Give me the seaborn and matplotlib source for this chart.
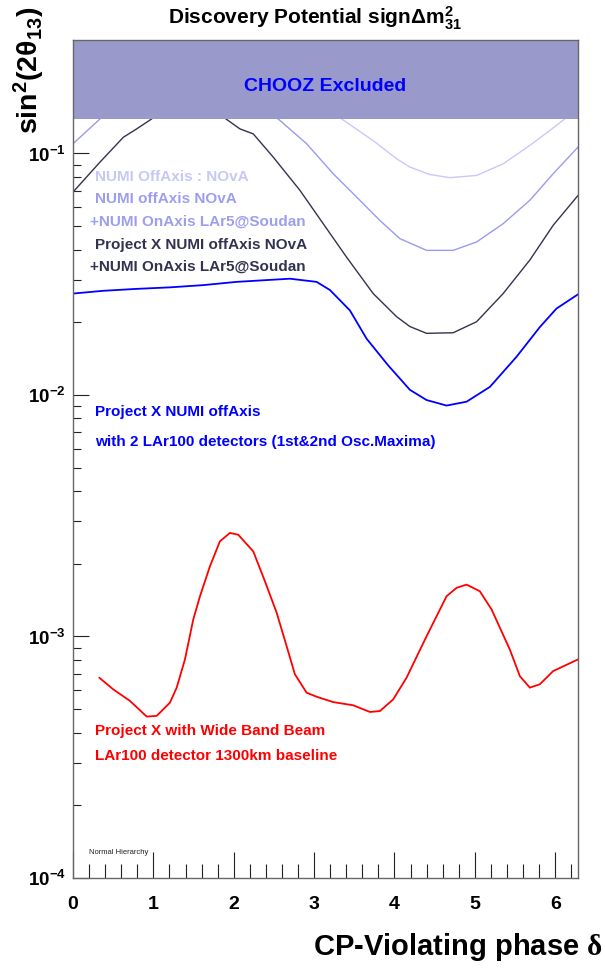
import numpy as np
import pandas as pd
import matplotlib
matplotlib.use("Agg")
import matplotlib.pyplot as plt
from matplotlib.ticker import LogLocator, FuncFormatter, MultipleLocator, NullFormatter
import seaborn as sns

# ---- data: sign(dm31^2) discovery reach vs CP phase ----
# NuMI off-axis NOvA alone
nova_delta = [0.0, 0.5, 1.5, 2.5, 3.0, 3.342, 3.735, 4.026, 4.192, 4.440, 4.689,
              5.021, 5.352, 5.684, 5.933, 6.119, 6.283]
nova_s2 = [0.155, 0.20, 0.25, 0.22, 0.165, 0.139, 0.113, 0.0951, 0.0878, 0.0818, 0.0794,
           0.0811, 0.0906, 0.108, 0.1245, 0.139, 0.155]

# NOvA + LAr5 on-axis at Soudan
lar5_delta = [0.0, 0.336, 0.8, 1.4, 2.0, 2.553, 2.907, 3.238, 3.529, 3.818, 4.067,
              4.399, 4.730, 5.021, 5.352, 5.684, 5.974, 6.283]
lar5_s2 = [0.1097, 0.139, 0.18, 0.21, 0.18, 0.139, 0.1097, 0.0824, 0.0660, 0.0528, 0.0444,
           0.0397, 0.0397, 0.0430, 0.0512, 0.0640, 0.0824, 0.1062]

# Project X beam: NOvA + LAr5
px_lar5_delta = [0.0, 0.336, 0.626, 0.792, 0.979, 1.2, 1.45, 1.7, 1.903, 2.077, 2.243,
                 2.491, 2.823, 3.113, 3.404, 3.735, 4.026, 4.192, 4.399, 4.730, 5.021,
                 5.352, 5.684, 5.974, 6.283]
px_lar5_s2 = [0.0692, 0.0921, 0.1167, 0.1264, 0.139, 0.17, 0.185, 0.17, 0.139, 0.1264, 0.1205,
              0.0966, 0.0704, 0.0512, 0.0372, 0.0263, 0.0211, 0.0192, 0.0180, 0.0181, 0.0201,
              0.0263, 0.0362, 0.0504, 0.0670]

# Project X NuMI off-axis, two LAr100 detectors
px_2lar_delta = [0.0, 0.377, 0.792, 1.206, 1.621, 2.036, 2.699, 3.031, 3.197, 3.445, 3.653,
                 3.918, 4.192, 4.399, 4.648, 4.897, 5.187, 5.519, 5.808, 6.016, 6.283]
px_2lar_s2 = [0.0263, 0.0270, 0.0275, 0.0279, 0.0285, 0.0294, 0.0303, 0.0294, 0.0272, 0.0224,
              0.0171, 0.0133, 0.0105, 0.00953, 0.00904, 0.00938, 0.0108, 0.0144, 0.0191,
              0.0228, 0.0261]

# Project X wide band beam, LAr100 at 1300 km
wbb_delta = [0.327, 0.501, 0.709, 0.917, 1.041, 1.206, 1.290, 1.393, 1.496, 1.580, 1.704,
             1.828, 1.953, 2.056, 2.243, 2.388, 2.534, 2.658, 2.761, 2.907, 3.031, 3.238,
             3.486, 3.694, 3.818, 3.984, 4.150, 4.399, 4.648, 4.772, 4.897, 5.062, 5.208,
             5.435, 5.560, 5.684, 5.808, 5.974, 6.285]
wbb_s2 = [0.000675, 0.000604, 0.000541, 0.000466, 0.000469, 0.000532, 0.000614, 0.000804,
          0.001175, 0.001468, 0.001954, 0.002478, 0.002685, 0.002638, 0.002250, 0.001693,
          0.001254, 0.000912, 0.000697, 0.000585, 0.000563, 0.000535, 0.000519, 0.000487,
          0.000491, 0.000549, 0.000675, 0.001002, 0.001468, 0.001590, 0.001640, 0.001539,
          0.001294, 0.000883, 0.000685, 0.000614, 0.000634, 0.000719, 0.000804]

chooz_limit = 0.139
y_top = 0.295
y_bottom = 1e-4
x_max = 2 * np.pi

sns.set_style("white")
plt.rcParams["font.family"] = ["Liberation Sans", "DejaVu Sans"]
plt.rcParams["font.weight"] = "bold"
plt.rcParams["text.color"] = "black"
plt.rcParams["xtick.color"] = "#222222"
plt.rcParams["ytick.color"] = "#222222"
plt.rcParams["xtick.labelcolor"] = "black"
plt.rcParams["ytick.labelcolor"] = "black"
plt.rcParams["mathtext.fontset"] = "custom"
plt.rcParams["mathtext.rm"] = "Liberation Sans"
plt.rcParams["mathtext.bf"] = "Liberation Sans:bold"
plt.rcParams["mathtext.it"] = "Liberation Serif"

W, H = 605, 976
fig = plt.figure(figsize=(W / 100, H / 100), dpi=100)
ax = fig.add_axes([73 / W, 1 - 878 / H, 505 / W, 838 / H])

series = [
    (nova_delta, nova_s2, "#c8c8fa", 1.0),
    (lar5_delta, lar5_s2, "#9a9af2", 1.0),
    (px_lar5_delta, px_lar5_s2, "#33334f", 1.0),
    (px_2lar_delta, px_2lar_s2, "#0000ff", 1.3),
    (wbb_delta, wbb_s2, "#ff0000", 1.3),
]
for d, s, c, lw in series:
    df = pd.DataFrame({"delta": d, "s2": s})
    sns.lineplot(data=df, x="delta", y="s2", ax=ax, color=c, linewidth=lw,
                 estimator=None, sort=False, zorder=2)

ax.set_yscale("log")
ax.set_xlim(0, x_max)
ax.set_ylim(y_bottom, y_top)

# excluded region
ax.axhspan(chooz_limit, y_top, color="#9999cc", zorder=3, lw=0)
ax.text(0.499, 0.945, "CHOOZ Excluded", transform=ax.transAxes, color="#0000ff",
        fontsize=14, ha="center", va="center", zorder=4)

# ticks
ax.xaxis.set_major_locator(MultipleLocator(1))
ax.xaxis.set_minor_locator(MultipleLocator(0.2))
ax.yaxis.set_major_locator(LogLocator(base=10))
ax.yaxis.set_minor_locator(LogLocator(base=10, subs=np.arange(2, 10)))
ax.yaxis.set_minor_formatter(NullFormatter())
ax.yaxis.set_major_formatter(FuncFormatter(lambda v, p: r"$\mathbf{10^{%d}}$" % round(np.log10(v))))
ax.tick_params(which="both", bottom=True, left=True, top=False, right=False)
ax.tick_params(axis="x", which="major", direction="in", length=19, width=0.8,
               pad=13, labelsize=14)
ax.tick_params(axis="x", which="minor", direction="in", length=10, width=0.8)
ax.tick_params(axis="y", which="major", direction="in", length=11.5, width=0.8,
               pad=5, labelsize=13.5)
ax.tick_params(axis="y", which="minor", direction="in", length=6, width=0.8)
for sp in ax.spines.values():
    sp.set_color("#666666")
    sp.set_linewidth(1.0)
    sp.set_zorder(5)
ax.set_xlabel("")
ax.set_ylabel("")

# curve annotations
labels = [
    (0.0436, 0.8365, "NUMI OffAxis : NOvA", "#c8c8f5"),
    (0.0436, 0.810, "NUMI offAxis NOvA", "#9e9eef"),
    (0.0337, 0.783, "+NUMI OnAxis LAr5@Soudan", "#9e9eef"),
    (0.0436, 0.755, "Project X NUMI offAxis NOvA", "#333350"),
    (0.0337, 0.729, "+NUMI OnAxis LAr5@Soudan", "#333350"),
    (0.0436, 0.556, "Project X NUMI offAxis", "#0000ff"),
    (0.0436, 0.520, "with 2 LAr100 detectors (1st&2nd Osc.Maxima)", "#0000ff"),
    (0.0436, 0.1754, "Project X with Wide Band Beam", "#ff0000"),
    (0.0436, 0.1456, "LAr100 detector 1300km baseline", "#ff0000"),
]
for x, y, t, c in labels:
    ax.text(x, y, t, transform=ax.transAxes, color=c, fontsize=11,
            ha="left", va="center", zorder=4)
ax.text(0.0317, 0.031, "Normal Hierarchy", transform=ax.transAxes, color="#222222",
        fontsize=5.5, fontweight="normal", ha="left", va="center", zorder=4)

fig.text(315 / W, 1 - 18 / H, r"Discovery Potential sign$\mathbf{\Delta m^{2}_{31}}$",
         ha="center", va="center", fontsize=15)
fig.text(29 / W, 1 - 7 / H, r"$\mathbf{sin^{2}(2θ_{13})}$", rotation=90,
         ha="center", va="top", fontsize=20.5)
fig.text(603 / W, 1 - 947 / H, r"CP-Violating phase $\delta$", ha="right", va="center",
         fontsize=21)

fig.savefig("out.png", dpi=100)
